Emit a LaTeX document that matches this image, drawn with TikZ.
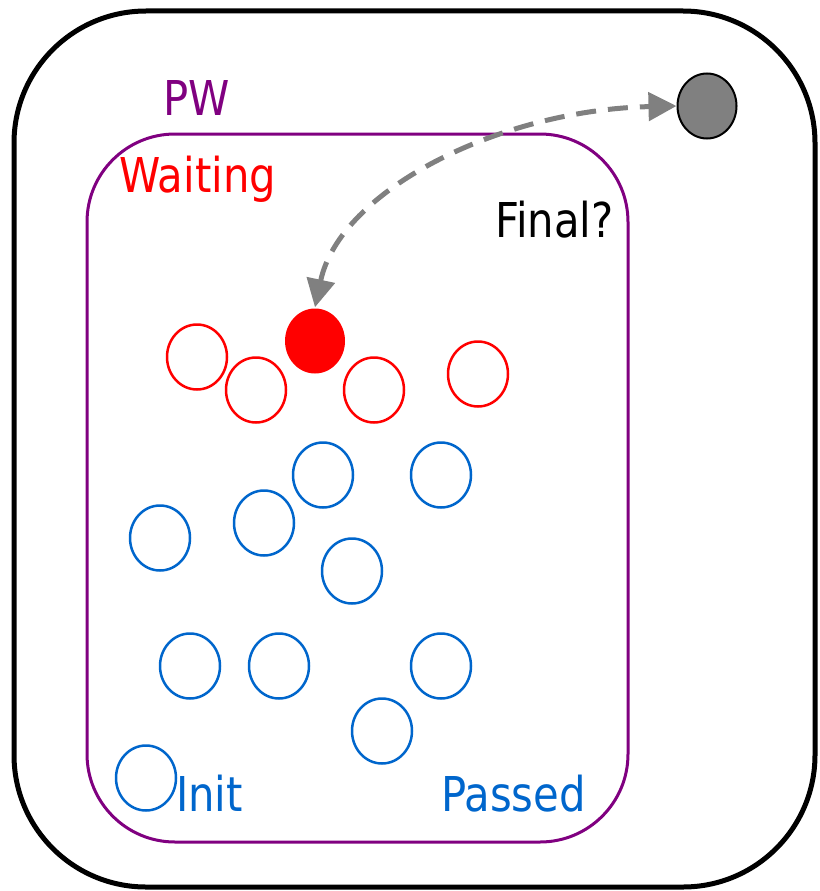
\documentclass[tikz,border=0pt]{standalone}
\usepackage{fontspec}
\usetikzlibrary{shapes.geometric,arrows.meta}
\newfontfamily\labfont[FakeStretch=0.87]{DejaVu Sans}
\definecolor{pwpurple}{RGB}{128,0,128}
\definecolor{passblue}{RGB}{0,102,204}
\definecolor{arrgray}{RGB}{128,128,128}
\tikzset{
  st/.style={ellipse,minimum width=60pt,minimum height=65pt,inner sep=0pt,line width=2.5pt},
  waitst/.style={st,draw=red},
  passst/.style={st,draw=passblue},
  lab/.style={anchor=base west,inner sep=0pt,font=\labfont\fontsize{48}{58}\selectfont},
  conn/.style={draw=arrgray,line width=5pt,dash pattern=on 20pt off 12pt,{Triangle[length=28pt,width=28pt]}-{Triangle[length=28pt,width=28pt]}}
}
\begin{document}
\begin{tikzpicture}[x=1pt,y=-1pt]
\useasboundingbox (0,0) rectangle (819,891);
\draw[line width=5pt,rounded corners=132pt] (14,11) rectangle (815,887);
\draw[pwpurple,line width=3pt,rounded corners=88pt] (87,134) rectangle (628,842);
\node[lab,text=pwpurple] (pw) at (163,115) {PW};
\node[lab,text=red] (waiting) at (119,192) {Waiting};
\node[lab,text=black] (final) at (495,237) {Final?};
\node[lab,text=passblue] (init) at (176,811) {Init};
\node[lab,text=passblue] (passed) at (441,811) {Passed};
% goal state
\node[ellipse,minimum width=59pt,minimum height=65pt,inner sep=0pt,fill=arrgray,draw=black,line width=2pt] (g) at (707,106) {};
% waiting states
\node[st,fill=red] (r) at (315,341) {};
\node[waitst] (w1) at (197,357) {};
\node[waitst] (w2) at (256,390) {};
\node[waitst] (w3) at (374,390) {};
\node[waitst] (w4) at (478,374) {};
% passed states
\node[passst] (p1) at (323,475) {};
\node[passst] (p2) at (441,475) {};
\node[passst] (p3) at (264,523) {};
\node[passst] (p4) at (160,538) {};
\node[passst] (p5) at (352,571) {};
\node[passst] (p6) at (190,666) {};
\node[passst] (p7) at (279,666) {};
\node[passst] (p8) at (441,666) {};
\node[passst] (p9) at (382,731) {};
\node[passst] (p10) at (146,778) {};
% connector
\draw[conn] (r.north) .. controls (340,190) and (500,110) .. (g.west);
\end{tikzpicture}
\end{document}
